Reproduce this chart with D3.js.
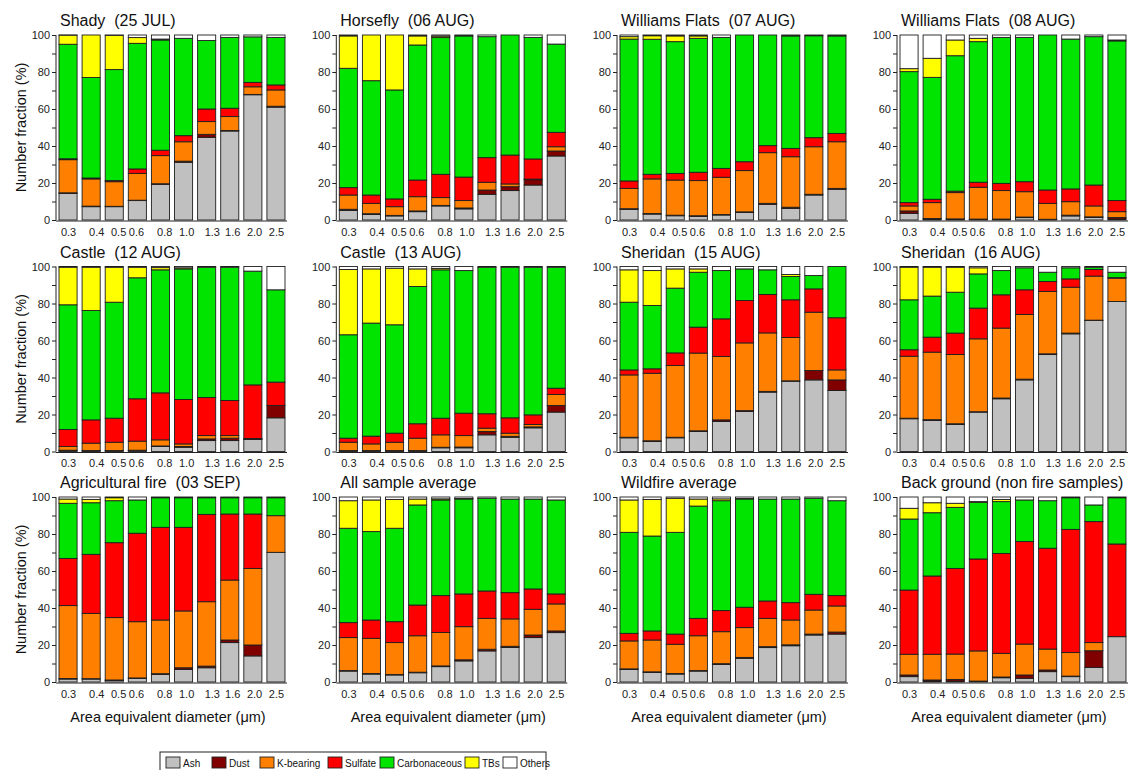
<!DOCTYPE html>
<html>
<head>
<meta charset="utf-8">
<script src="https://cdn.jsdelivr.net/npm/d3@7/dist/d3.min.js"></script>
<style>
  html, body { margin: 0; padding: 0; background: #fff; }
  svg { display: block; font-family: "Liberation Sans", Arial, sans-serif; }
</style>
</head>
<body>
<svg id="chart" width="1142" height="770"></svg>
<script>
// Size bins (area equivalent diameter, µm)
const sizeLabels = ["0.3", "0.4", "0.5", "0.6", "0.8", "1.0", "1.3", "1.6", "2.0", "2.5"];
const sizeValues = [0.3, 0.4, 0.5, 0.6, 0.8, 1.0, 1.3, 1.6, 2.0, 2.5];

// Particle classes, bottom to top of each stack
const categories = ["Ash", "Dust", "K-bearing", "Sulfate", "Carbonaceous", "TBs", "Others"];
const categoryColors = ["#c0c0c0", "#800000", "#ff8000", "#ff0000", "#00e400", "#ffff00", "#ffffff"];

const panelTitles = [
  "Shady  (25 JUL)", "Horsefly  (06 AUG)", "Williams Flats  (07 AUG)", "Williams Flats  (08 AUG)",
  "Castle  (12 AUG)", "Castle  (13 AUG)", "Sheridan  (15 AUG)", "Sheridan  (16 AUG)",
  "Agricultural fire  (03 SEP)", "All sample average", "Wildfire average", "Back ground (non fire samples)"
];

// Number fraction (%) per size bin: [Ash, Dust, K-bearing, Sulfate, Carbonaceous, TBs, Others]
const shady25Jul = [
  [14.4, 0.3, 17.9, 0.5, 61.9, 4.9, 0.1],
  [7.2, 0.3, 14.7, 0.5, 54.3, 23.0, 0.0],
  [7.2, 0.2, 13.3, 0.6, 60.0, 18.5, 0.2],
  [10.5, 0.2, 14.5, 2.4, 67.9, 3.1, 1.4],
  [19.3, 0.3, 15.2, 2.9, 59.6, 0.5, 2.2],
  [31.2, 0.6, 10.5, 3.3, 52.6, 0.0, 1.8],
  [44.7, 1.6, 6.9, 6.8, 37.0, 0.0, 3.0],
  [48.1, 0.3, 7.5, 4.5, 38.3, 0.0, 1.3],
  [67.7, 0.2, 4.1, 2.4, 24.6, 0.0, 1.0],
  [61.0, 0.5, 8.8, 2.7, 25.7, 0.0, 1.3]
];
const horsefly06Aug = [
  [5.2, 0.6, 7.7, 4.0, 64.5, 17.5, 0.5],
  [3.0, 0.4, 5.6, 4.5, 61.8, 24.7, 0.0],
  [2.2, 0.3, 4.7, 4.2, 58.9, 29.7, 0.0],
  [4.5, 0.4, 7.7, 9.0, 73.0, 4.9, 0.5],
  [7.6, 0.3, 4.2, 12.6, 73.9, 0.8, 0.6],
  [6.0, 0.5, 4.0, 12.7, 76.3, 0.0, 0.5],
  [13.9, 2.3, 4.2, 13.3, 65.4, 0.0, 0.9],
  [15.9, 2.1, 1.5, 15.6, 64.9, 0.0, 0.0],
  [18.9, 2.9, 0.3, 10.9, 65.7, 0.0, 1.3],
  [34.6, 2.7, 2.3, 7.8, 47.7, 0.0, 4.9]
];
const williamsFlats07Aug = [
  [5.8, 0.3, 11.0, 4.0, 76.7, 1.3, 0.9],
  [3.2, 0.3, 18.7, 2.5, 73.0, 1.9, 0.4],
  [2.3, 0.3, 19.0, 3.6, 71.2, 3.1, 0.5],
  [2.0, 0.3, 19.0, 4.5, 72.4, 1.3, 0.5],
  [2.7, 0.3, 20.1, 4.8, 70.8, 0.0, 1.3],
  [4.1, 0.3, 22.3, 4.8, 68.5, 0.0, 0.0],
  [8.5, 0.5, 27.4, 3.8, 59.8, 0.0, 0.0],
  [6.3, 0.6, 27.3, 4.5, 60.8, 0.0, 0.5],
  [13.5, 0.4, 25.7, 4.9, 55.1, 0.0, 0.4],
  [16.6, 0.5, 25.2, 4.5, 52.7, 0.0, 0.5]
];
const williamsFlats08Aug = [
  [3.6, 1.3, 2.7, 1.8, 70.8, 1.6, 18.2],
  [0.5, 0.3, 8.6, 1.8, 65.9, 10.3, 12.6],
  [0.4, 0.2, 14.2, 0.8, 73.2, 8.5, 2.7],
  [0.3, 0.2, 17.2, 2.7, 76.0, 1.8, 1.8],
  [0.3, 0.2, 15.4, 3.9, 78.9, 0.0, 1.3],
  [1.3, 0.3, 13.7, 5.4, 78.0, 0.0, 1.3],
  [0.2, 0.2, 8.6, 7.2, 83.8, 0.0, 0.0],
  [2.2, 0.4, 7.3, 6.9, 81.0, 0.0, 2.2],
  [1.4, 0.3, 5.9, 11.3, 80.2, 0.0, 0.9],
  [0.5, 0.8, 3.2, 6.0, 86.3, 0.5, 2.7]
];
const castle12Aug = [
  [0.4, 0.3, 2.0, 9.2, 67.4, 20.3, 0.4],
  [0.3, 0.2, 4.0, 12.6, 59.1, 23.4, 0.4],
  [0.3, 0.2, 4.5, 13.0, 62.7, 18.9, 0.4],
  [0.5, 0.2, 4.9, 22.9, 65.4, 5.7, 0.4],
  [2.7, 0.3, 3.3, 25.4, 66.5, 1.2, 0.6],
  [2.3, 0.4, 1.4, 24.0, 70.6, 0.6, 0.7],
  [5.9, 0.9, 1.8, 20.6, 70.4, 0.0, 0.4],
  [5.9, 1.3, 1.4, 19.0, 72.0, 0.0, 0.4],
  [6.5, 0.3, 0.2, 29.0, 61.5, 0.0, 2.5],
  [18.2, 6.7, 0.0, 12.6, 49.9, 0.0, 12.6]
];
const castle13Aug = [
  [0.3, 0.2, 4.5, 2.2, 55.9, 35.3, 1.6],
  [0.3, 0.2, 3.6, 4.2, 61.1, 29.3, 1.3],
  [0.3, 0.2, 4.5, 4.9, 58.6, 30.6, 0.9],
  [0.3, 0.2, 6.7, 7.8, 74.2, 9.5, 1.3],
  [2.0, 0.3, 6.7, 9.0, 80.2, 0.8, 1.0],
  [2.0, 0.4, 6.2, 12.1, 77.1, 0.0, 2.2],
  [9.0, 1.8, 1.8, 7.8, 79.2, 0.0, 0.4],
  [7.7, 0.5, 1.7, 8.3, 81.4, 0.0, 0.4],
  [12.8, 0.5, 1.3, 5.2, 79.8, 0.0, 0.4],
  [21.3, 3.6, 5.9, 3.4, 65.4, 0.0, 0.4]
];
const sheridan15Aug = [
  [7.4, 0.3, 33.7, 2.7, 36.6, 17.5, 1.8],
  [5.4, 0.4, 36.5, 2.4, 34.2, 18.9, 2.2],
  [7.4, 0.3, 38.8, 6.8, 35.0, 10.4, 1.3],
  [10.8, 0.4, 42.0, 14.0, 29.7, 1.8, 1.3],
  [16.2, 0.9, 34.3, 20.3, 26.1, 0.0, 2.2],
  [21.6, 0.5, 36.6, 22.9, 17.1, 0.0, 1.3],
  [32.1, 0.4, 31.6, 20.8, 13.3, 0.0, 1.8],
  [38.0, 0.2, 23.4, 20.4, 12.6, 1.1, 4.3],
  [38.7, 5.1, 31.5, 12.6, 7.2, 0.0, 4.9],
  [33.0, 5.7, 5.4, 28.2, 27.7, 0.0, 0.0]
];
const sheridan16Aug = [
  [17.7, 0.3, 33.5, 3.5, 27.0, 17.6, 0.4],
  [16.8, 0.4, 36.5, 8.1, 22.2, 15.6, 0.4],
  [14.6, 0.4, 37.4, 11.6, 22.1, 13.5, 0.4],
  [21.3, 0.2, 39.4, 16.6, 18.5, 3.3, 0.7],
  [28.5, 0.4, 37.8, 18.0, 13.1, 0.0, 2.2],
  [38.7, 0.4, 35.0, 13.3, 11.9, 0.0, 0.7],
  [52.4, 0.4, 33.7, 5.4, 5.0, 0.0, 3.1],
  [63.6, 0.4, 24.8, 4.5, 6.0, 0.0, 0.7],
  [70.8, 0.2, 23.8, 3.6, 1.2, 0.0, 0.4],
  [81.1, 0.0, 12.6, 0.3, 2.9, 0.0, 3.1]
];
const agriculturalFire03Sep = [
  [1.6, 0.3, 39.4, 25.5, 29.8, 2.3, 1.1],
  [1.6, 0.2, 35.3, 31.9, 27.9, 1.8, 1.3],
  [0.9, 0.2, 33.7, 40.5, 22.7, 1.6, 0.4],
  [2.0, 0.2, 30.4, 47.8, 18.0, 0.0, 1.6],
  [4.1, 0.4, 29.0, 50.1, 16.0, 0.0, 0.4],
  [6.8, 0.9, 30.7, 45.2, 16.0, 0.0, 0.4],
  [7.7, 0.9, 34.8, 47.2, 9.0, 0.0, 0.4],
  [21.3, 1.4, 32.4, 35.7, 8.8, 0.0, 0.4],
  [14.1, 5.9, 41.4, 29.4, 8.8, 0.0, 0.4],
  [70.1, 0.0, 19.8, 0.0, 9.7, 0.0, 0.4]
];
const allSampleAverage = [
  [5.9, 0.3, 17.8, 8.1, 51.0, 14.9, 2.0],
  [4.3, 0.3, 19.0, 9.9, 47.8, 17.1, 1.6],
  [3.8, 0.3, 17.2, 11.3, 50.5, 15.6, 1.3],
  [5.0, 0.3, 19.7, 16.6, 54.1, 3.2, 1.1],
  [8.3, 0.4, 18.1, 19.9, 51.7, 0.6, 1.0],
  [11.4, 0.6, 17.9, 17.7, 51.3, 0.3, 0.8],
  [16.8, 0.9, 16.7, 14.8, 50.1, 0.0, 0.7],
  [18.7, 0.6, 14.8, 14.2, 50.6, 0.0, 1.1],
  [24.0, 1.4, 13.9, 11.0, 48.6, 0.0, 1.1],
  [26.7, 0.9, 14.6, 5.4, 50.8, 0.0, 1.6]
];
const wildfireAverage = [
  [6.8, 0.3, 15.1, 4.1, 54.6, 17.5, 1.6],
  [5.2, 0.3, 17.2, 4.9, 51.3, 19.8, 1.3],
  [4.3, 0.3, 15.8, 5.5, 55.0, 18.4, 0.7],
  [5.9, 0.3, 18.8, 9.4, 60.7, 3.8, 1.1],
  [9.5, 0.4, 17.3, 11.4, 59.4, 1.0, 1.0],
  [12.8, 0.5, 16.1, 11.0, 58.5, 0.3, 0.8],
  [18.6, 0.5, 15.3, 9.4, 55.1, 0.0, 1.1],
  [19.6, 0.5, 13.4, 9.4, 56.0, 0.0, 1.1],
  [25.4, 0.5, 13.0, 8.5, 51.9, 0.0, 0.7],
  [25.9, 1.1, 14.1, 5.6, 51.3, 0.0, 2.0]
];
const backgroundNonFire = [
  [2.9, 0.9, 11.2, 34.7, 38.4, 5.8, 6.1],
  [0.5, 0.6, 13.9, 42.3, 34.2, 5.4, 3.1],
  [0.5, 0.9, 13.7, 46.3, 33.0, 2.2, 3.4],
  [0.3, 0.2, 16.3, 49.7, 30.6, 0.4, 2.5],
  [2.3, 0.4, 12.8, 54.0, 28.0, 1.2, 1.3],
  [2.0, 1.8, 16.7, 55.4, 22.5, 0.0, 1.6],
  [5.6, 0.9, 11.3, 54.5, 25.7, 0.0, 2.0],
  [2.9, 0.3, 12.7, 66.6, 17.1, 0.0, 0.4],
  [7.9, 9.0, 4.4, 65.4, 9.0, 0.0, 4.3],
  [24.5, 0.0, 0.0, 50.1, 25.0, 0.0, 0.4]
];

const panelData = [
  shady25Jul, horsefly06Aug, williamsFlats07Aug, williamsFlats08Aug,
  castle12Aug, castle13Aug, sheridan15Aug, sheridan16Aug,
  agriculturalFire03Sep, allSampleAverage, wildfireAverage, backgroundNonFire
];

// ---- layout ----
const svg = d3.select("#chart");
const colLeft = [59, 339.3, 620, 900];   // left edge of first bar in each column
const rowTop = [35, 266.5, 497];          // y of 100 %
const plotW = 226, plotH = 185;
const fontFamily = '"Liberation Sans", Arial, sans-serif';

const color = d3.scaleOrdinal().domain(categories).range(categoryColors);
const x = d3.scaleBand().domain(sizeLabels).range([0, plotW]).paddingInner(0.217).paddingOuter(0);
const y = d3.scaleLinear().domain([0, 1]).range([plotH, 0]);
// Tick labels sit on a logarithmic diameter axis spanning the bar centres
const xLog = d3.scaleLog().domain([0.3, 2.5])
  .range([x("0.3") + x.bandwidth() / 2, x("2.5") + x.bandwidth() / 2]);

const stack = d3.stack()
  .keys(d3.range(categories.length))
  .value((row, k) => row[k])
  .offset(d3.stackOffsetExpand);

panelData.forEach((rows, i) => {
  const col = i % 4, row = Math.floor(i / 4);
  const g = svg.append("g").attr("transform", `translate(${colLeft[col]},${rowTop[row]})`);

  const series = stack(rows);
  g.selectAll("g.layer")
    .data(series)
    .join("g")
    .attr("class", "layer")
    .attr("fill", d => color(categories[d.key]))
    .selectAll("rect")
    .data(d => d)
    .join("rect")
    .attr("x", (d, j) => x(sizeLabels[j]))
    .attr("width", x.bandwidth())
    .attr("y", d => y(d[1]))
    .attr("height", d => Math.max(0, y(d[0]) - y(d[1])))
    .attr("stroke", "#1e1e1e")
    .attr("stroke-width", 0.9);

  // y axis
  const yAxis = g.append("g")
    .attr("transform", "translate(-3,0)")
    .call(d3.axisLeft(y)
      .tickValues(d3.range(0, 11).map(v => v / 10))
      .tickSize(4)
      .tickFormat(v => (Math.round(v * 100) % 20 === 0 ? d3.format("d")(Math.round(v * 100)) : "")));
  yAxis.select(".domain").attr("stroke", "#222").attr("d", `M0,0V${plotH}`);
  yAxis.selectAll(".tick line").attr("stroke", "#222");
  yAxis.selectAll(".tick text")
    .attr("font-family", fontFamily).attr("font-size", 11).attr("fill", "#222").attr("x", -6);

  // x axis (logarithmic diameter scale)
  const xAxis = g.append("g")
    .attr("transform", `translate(0,${plotH + 1})`)
    .call(d3.axisBottom(xLog)
      .tickValues(sizeValues)
      .tickSize(0)
      .tickFormat(d3.format(".1f")));
  xAxis.select(".domain").attr("stroke", "#222").attr("d", `M-3,0H${plotW + 2}`);
  xAxis.selectAll(".tick text")
    .attr("font-family", fontFamily).attr("font-size", 11).attr("fill", "#222").attr("dy", "1.05em");

  // title
  g.append("text")
    .attr("x", 1).attr("y", -9)
    .attr("font-family", fontFamily).attr("font-size", 16).attr("fill", "#111")
    .attr("xml:space", "preserve")
    .style("white-space", "pre")
    .text(panelTitles[i]);
});

// shared axis titles
rowTop.forEach(top => {
  svg.append("text")
    .attr("transform", `translate(26,${top + plotH / 2}) rotate(-90)`)
    .attr("text-anchor", "middle")
    .attr("font-family", fontFamily).attr("font-size", 14.5).attr("fill", "#111")
    .text("Number fraction (%)");
});
colLeft.forEach(left => {
  svg.append("text")
    .attr("x", left + plotW / 2 - 4).attr("y", 722)
    .attr("text-anchor", "middle")
    .attr("font-family", fontFamily).attr("font-size", 14.5).attr("fill", "#111")
    .text("Area equivalent diameter (\u03bcm)");
});

// legend
const legend = svg.append("g").attr("transform", "translate(160,752)");
legend.append("rect")
  .attr("x", 0).attr("y", 0).attr("width", 386).attr("height", 24)
  .attr("fill", "#fff").attr("stroke", "#222").attr("stroke-width", 1);
const legendX = [6, 52, 100, 168, 220, 305, 343];
const items = legend.selectAll("g.item")
  .data(categories)
  .join("g")
  .attr("class", "item")
  .attr("transform", (d, k) => `translate(${legendX[k]},5)`);
items.append("rect")
  .attr("width", 14).attr("height", 11)
  .attr("fill", d => color(d)).attr("stroke", "#222").attr("stroke-width", 0.9);
items.append("text")
  .attr("x", 17).attr("y", 10)
  .attr("font-family", fontFamily).attr("font-size", 10).attr("fill", "#111")
  .text(d => d);
</script>
</body>
</html>
